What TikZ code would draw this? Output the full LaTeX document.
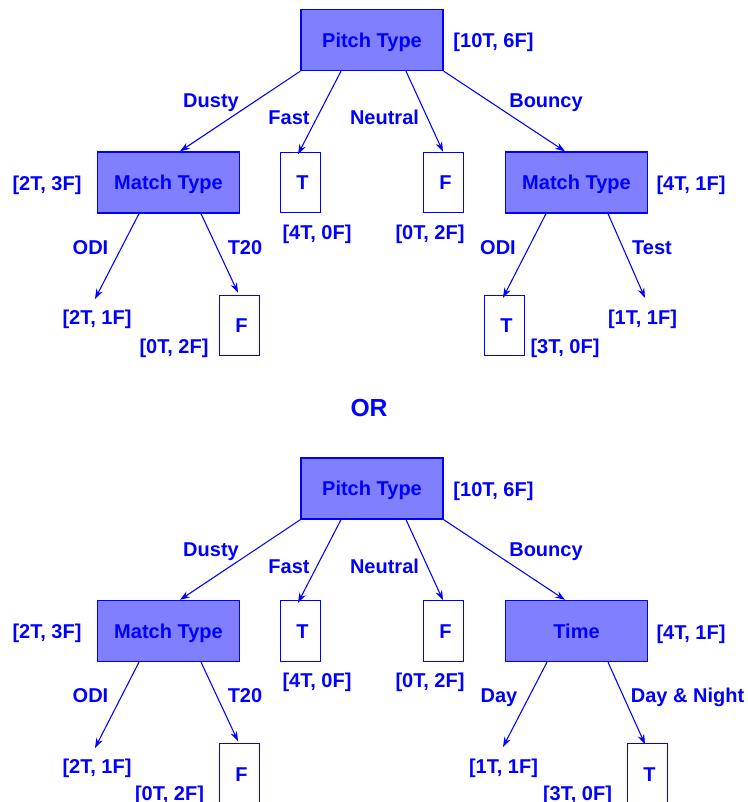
\documentclass[tikz,border=0pt]{standalone}
\usepackage{fontspec}
\setmainfont{Liberation Sans}
\usetikzlibrary{arrows.meta,calc}
\definecolor{tblue}{RGB}{0,0,255}
\definecolor{bfill}{RGB}{128,128,255}
\begin{document}
\begin{tikzpicture}[x=0.75pt,y=-0.75pt,
  every node/.style={font=\fontsize{15}{18}\selectfont\bfseries, text=tblue, text height=10.8pt, text depth=0pt},
  bigbox/.style={draw=tblue, fill=bfill, line width=0.9pt, minimum width=106.5pt, minimum height=45.8pt, inner sep=0pt},
  leafbox/.style={draw=tblue, fill=white, line width=0.9pt, minimum width=30pt, minimum height=45.2pt, inner sep=0pt},
  lbl/.style={inner sep=0pt},
  orlbl/.style={inner sep=0pt, font=\fontsize{18.5}{22}\selectfont\bfseries, text height=13.3pt},
  arr/.style={draw=tblue, line width=0.8pt, -{Stealth[length=7.5pt,width=5.2pt,inset=2.5pt]}}]
\useasboundingbox (0,0) rectangle (748,802);
\clip (0,0) rectangle (748,802);

% ---------- top tree ----------
\node[bigbox] (p1) at (372,40) {Pitch Type};
\node[bigbox] (m1) at (168.5,182.5) {Match Type};
\node[leafbox] (t1) at (300.5,182.5) {\hspace{3pt}T};
\node[leafbox] (f1) at (443.5,182.5) {\hspace{3pt}F};
\node[bigbox] (m2) at (576.5,182.5) {Match Type};
\node[leafbox] (f2) at (239.5,325.5) {\hspace{3pt}F};
\node[leafbox] (t2) at (504.5,325.5) {\hspace{3pt}T};

\node[lbl] (c0) at (493.5,40) {[10T, 6F]};
\node[lbl] (c1) at (47,183) {[2T, 3F]};
\node[lbl] (c2) at (317,232) {[4T, 0F]};
\node[lbl] (c3) at (430,232) {[0T, 2F]};
\node[lbl] (c4) at (691,183) {[4T, 1F]};
\node[lbl] (l1) at (97,317) {[2T, 1F]};
\node[lbl] (c5) at (174,346) {[0T, 2F]};
\node[lbl] (c6) at (565,346) {[3T, 0F]};
\node[lbl] (l2) at (642.5,317) {[1T, 1F]};

\node[lbl] (e1) at (211,100) {Dusty};
\node[lbl] (e2) at (289,117) {Fast};
\node[lbl] (e3) at (384.5,117) {Neutral};
\node[lbl] (e4) at (546,100) {Bouncy};
\node[lbl] (e5) at (90.5,247) {ODI};
\node[lbl] (e6) at (245,247) {T20};
\node[lbl] (e7) at (498,247) {ODI};
\node[lbl] (e8) at (652,247) {Test};

\draw[arr] (p1.south west) -- ($(m1.north)+(11.5,0)$);
\draw[arr] ($(p1.south)+(-31,0)$) -- ($(t1.north)+(-2.5,2.5)$);
\draw[arr] ($(p1.south)+(34,0)$) -- ($(f1.north)+(-0.5,0)$);
\draw[arr] (p1.south east) -- ($(m2.north)+(-11.5,0)$);
\draw[arr] ($(m1.south)+(-29.5,0)$) -- ($(l1.center)+(-2,-18)$);
\draw[arr] ($(m1.south)+(32.5,0)$) -- ($(f2.north)+(-1.5,-2)$);
\draw[arr] ($(m2.south)+(-30.5,0)$) -- ($(t2.north)+(-1.5,3)$);
\draw[arr] ($(m2.south)+(31.5,0)$) -- ($(l2.center)+(2.5,-19)$);

% ---------- OR ----------
\node[orlbl] (or) at (369,408) {OR};

% ---------- bottom tree ----------
\node[bigbox] (bp1) at (372,488.5) {Pitch Type};
\node[bigbox] (bm1) at (168.5,631) {Match Type};
\node[leafbox] (bt1) at (300.5,631) {\hspace{3pt}T};
\node[leafbox] (bf1) at (443.5,631) {\hspace{3pt}F};
\node[bigbox] (btime) at (576.5,631) {Time};
\node[leafbox] (bf2) at (239.5,774) {\hspace{3pt}F};
\node[leafbox] (bt3) at (647.5,774) {\hspace{3pt}T};

\node[lbl] (bc0) at (493.5,489) {[10T, 6F]};
\node[lbl] (bc1) at (47,631) {[2T, 3F]};
\node[lbl] (bc2) at (317,680) {[4T, 0F]};
\node[lbl] (bc3) at (430,680) {[0T, 2F]};
\node[lbl] (bc4) at (691,632) {[4T, 1F]};
\node[lbl] (bl1) at (97,766) {[2T, 1F]};
\node[lbl] (bc5) at (169.5,793) {[0T, 2F]};
\node[lbl] (bl3) at (503.5,766) {[1T, 1F]};
\node[lbl] (bc6) at (577.5,793) {[3T, 0F]};

\node[lbl] (be1) at (211,549) {Dusty};
\node[lbl] (be2) at (289,566) {Fast};
\node[lbl] (be3) at (384.5,566) {Neutral};
\node[lbl] (be4) at (546,549) {Bouncy};
\node[lbl] (be5) at (90.5,695) {ODI};
\node[lbl] (be6) at (245,695) {T20};
\node[lbl] (be7) at (499,695) {Day};
\node[lbl] (be8) at (687.5,695) {Day \& Night};

\draw[arr] (bp1.south west) -- ($(bm1.north)+(11.5,0)$);
\draw[arr] ($(bp1.south)+(-31,0)$) -- ($(bt1.north)+(-2.5,2.5)$);
\draw[arr] ($(bp1.south)+(34,0)$) -- ($(bf1.north)+(-0.5,0)$);
\draw[arr] (bp1.south east) -- ($(btime.north)+(-11.5,0)$);
\draw[arr] ($(bm1.south)+(-29.5,0)$) -- ($(bl1.center)+(-2,-18)$);
\draw[arr] ($(bm1.south)+(32.5,0)$) -- ($(bf2.north)+(-1.5,-2)$);
\draw[arr] ($(btime.south)+(-29.5,0)$) -- ($(bl3.center)+(-0.5,-19)$);
\draw[arr] ($(btime.south)+(31.5,0)$) -- ($(bt3.north)+(-2.5,1)$);
\end{tikzpicture}
\end{document}
